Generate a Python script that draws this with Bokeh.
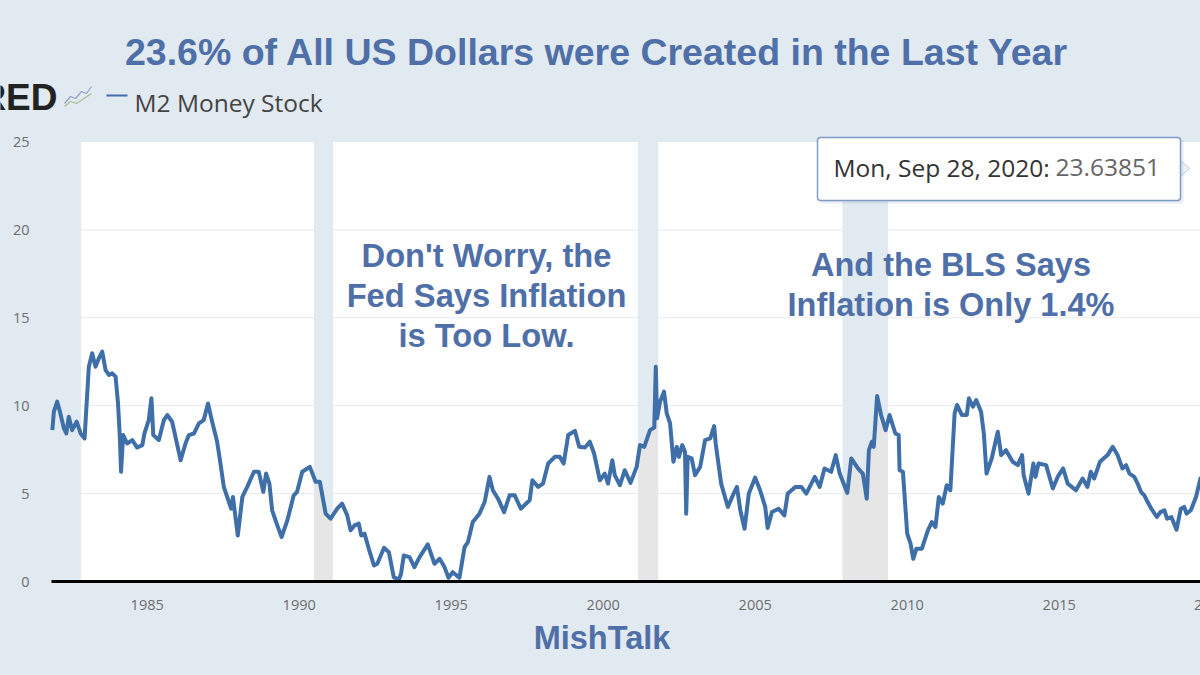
from bokeh.plotting import figure
from bokeh.models import Label, Range1d, FixedTicker, BoxAnnotation
from bokeh.embed import file_html
from bokeh.resources import INLINE
import numpy as np

# ---- data ----
years = [1981.88,1981.93,1982.04,1982.13,1982.26,1982.34,1982.42,1982.53,1982.68,1982.81,1982.94,1983.08,1983.19,1983.30,1983.41,1983.52,1983.63,1983.74,1983.85,1983.96,
1984.04,1984.10,1984.14,1984.21,1984.34,1984.51,1984.67,1984.84,1984.91,1985.05,1985.14,1985.20,1985.38,1985.55,1985.66,1985.82,1985.93,1986.10,1986.26,1986.37,1986.54,1986.70,1986.86,1987.00,1987.11,1987.30,1987.41,1987.52,1987.76,1987.82,1987.98,
1988.13,1988.29,1988.51,1988.67,1988.82,1988.91,1989.02,1989.11,1989.28,1989.42,1989.61,1989.82,1989.93,1990.10,1990.35,1990.54,1990.68,1990.87,1991.03,1991.25,1991.41,1991.58,1991.69,1991.82,1991.96,1992.04,1992.15,1992.29,1992.46,1992.57,1992.79,1992.95,1993.11,1993.28,
1993.35,1993.44,1993.63,1993.79,1993.96,1994.23,1994.45,1994.62,1994.78,1994.91,1995.05,1995.27,1995.44,1995.55,1995.71,1995.93,1996.10,1996.26,1996.37,1996.54,1996.74,1996.92,1997.09,1997.29,1997.58,1997.67,1997.86,1998.02,1998.19,1998.41,1998.57,1998.70,1998.85,1999.07,1999.21,1999.40,1999.56,1999.70,1999.89,
2000.05,2000.16,2000.30,2000.38,2000.55,2000.71,2000.90,2001.10,2001.21,2001.35,2001.54,2001.68,2001.73,2001.77,2001.87,2002.00,2002.09,2002.20,2002.31,2002.42,2002.49,2002.60,2002.69,2002.73,2002.78,2002.91,2003.02,2003.19,2003.35,2003.52,2003.65,2003.70,2003.88,2004.10,2004.29,2004.40,2004.51,2004.65,2004.79,2005.00,2005.16,2005.33,2005.41,2005.55,2005.77,2005.96,2006.07,2006.32,2006.52,
2006.68,2006.96,2007.12,2007.28,2007.50,2007.65,2007.78,2008.03,2008.16,2008.38,2008.54,2008.67,2008.74,2008.84,2008.90,2009.01,2009.14,2009.29,2009.42,2009.61,2009.72,2009.75,2009.86,2010.00,2010.11,2010.20,2010.30,2010.48,2010.68,2010.81,2010.93,2011.04,2011.17,2011.30,2011.42,2011.56,2011.64,2011.80,2011.96,2012.03,2012.16,2012.27,2012.43,2012.52,2012.61,2012.78,2012.98,2013.09,2013.25,2013.47,2013.64,2013.78,2013.83,2013.99,
2014.15,2014.22,2014.32,2014.57,2014.79,2014.95,2015.13,2015.28,2015.55,2015.77,2015.93,2016.04,2016.15,2016.34,2016.59,2016.76,2016.92,2017.08,2017.20,2017.31,2017.47,2017.58,2017.69,2017.80,2017.91,2018.03,2018.21,2018.33,2018.46,2018.55,2018.69,2018.86,2019.00,2019.11,2019.19,2019.33,2019.50,2019.66]
m2_growth = [8.61,9.66,10.23,9.66,8.71,8.42,9.37,8.61,9.09,8.42,8.14,12.22,12.98,12.22,12.70,13.08,12.03,11.75,11.84,11.65,
10.13,8.23,6.24,8.33,7.85,8.04,7.62,7.76,8.42,9.18,10.42,8.33,8.04,9.18,9.47,9.09,8.23,6.90,7.85,8.33,8.42,8.99,9.18,10.13,9.28,7.95,6.71,5.38,4.14,4.81,2.62,
4.81,5.38,6.24,6.24,5.10,6.14,5.57,4.05,3.19,2.53,3.48,4.90,5.10,6.24,6.52,5.67,5.67,3.86,3.57,4.14,4.43,3.76,2.91,3.19,3.29,2.62,2.72,1.86,0.91,1.01,1.92,1.67,0.25,0.10,
0.44,1.48,1.39,0.82,1.39,2.11,1.01,1.29,0.82,0.21,0.53,0.21,1.96,2.24,3.38,3.86,4.52,5.95,5.19,4.71,3.95,4.90,4.90,4.14,4.62,5.76,5.38,5.57,6.71,7.09,7.09,6.71,8.33,8.57,7.66,7.62,7.95,7.28,5.76,
6.14,5.57,6.90,6.05,5.48,6.33,5.61,6.52,7.76,7.66,8.61,8.76,12.22,9.28,10.23,10.80,9.56,8.99,6.81,7.66,7.09,7.76,7.38,3.86,7.09,7.00,6.05,6.52,8.04,8.14,8.84,7.85,5.57,4.24,5.00,5.38,4.05,3.00,5.00,5.91,5.19,4.24,3.04,3.95,4.14,3.76,5.00,5.38,5.38,
5.00,5.95,5.38,6.43,6.24,7.19,6.14,5.04,7.00,6.43,6.14,4.71,7.47,7.95,7.66,10.55,9.47,8.61,9.47,8.42,8.33,6.33,6.24,2.72,2.15,1.29,1.86,1.86,2.91,3.38,3.10,4.81,4.43,5.48,5.19,9.56,10.04,9.47,9.47,10.42,9.94,10.32,9.66,8.42,6.14,7.00,8.52,7.19,7.47,6.81,6.62,7.19,6.05,5.00,
6.71,5.95,6.71,6.62,5.29,5.95,6.43,5.57,5.19,5.86,5.38,6.24,5.86,6.81,7.19,7.66,7.19,6.43,6.62,6.14,5.95,5.57,5.10,4.90,4.52,4.14,3.67,3.95,4.05,3.57,3.67,2.95,4.14,4.24,3.86,4.05,4.81,5.95]
recession_start = [1982.00, 1990.48, 2001.14, 2007.87]
recession_end = [1982.83, 1991.11, 2001.81, 2009.37]
x_ticks = [1985, 1990, 1995, 2000, 2005, 2010, 2015]
y_ticks = [0, 5, 10, 15, 20, 25]
title = "23.6% of All US Dollars were Created in the Last Year"
series_name = "M2 Money Stock"
tip_date = "Mon, Sep 28, 2020:"
tip_value = "23.63851"
note_left = ["Don't Worry, the", "Fed Says Inflation", "is Too Low."]
note_right = ["And the BLS Says", "Inflation is Only 1.4%"]
credit = "MishTalk"

# ---- styles ----
BG = "#e1e9f1"
BLUE = "#3f6fa8"
INK = "#4f6fa8"
GRAY = "#e6e6e6"
TICK = "#6e6e6e"

# pixel helpers for annotation placement only (page pixels to data units)
PXY = 30.4
PXV = 17.58
def xd(px): return 1985 + (px - 146.7) / PXY
def yd(py): return (581 - py) / PXV
X0, X1 = xd(51), xd(1200)

p = figure(width=1200, height=675, output_backend="svg", toolbar_location=None,
           x_range=Range1d(xd(0), X1), y_range=Range1d(yd(675), yd(0)),
           min_border_left=0, min_border_right=0, min_border_top=0, min_border_bottom=0)
p.outline_line_color = None
p.background_fill_color = BG
p.border_fill_color = BG

# white chart panel
p.quad(left=[recession_end[0]], right=[X1], bottom=[0], top=[25], fill_color="white", line_color=None, level="image")

p.xaxis[0].fixed_location = 0
p.yaxis[0].fixed_location = X0
for ax, tk in ((p.xaxis[0], x_ticks), (p.yaxis[0], y_ticks)):
    ax.ticker = FixedTicker(ticks=tk)
    ax.axis_line_color = None
    ax.major_tick_line_color = None
    ax.minor_tick_line_color = None
    ax.major_label_text_font = "Open Sans"
    ax.major_label_text_font_size = "14.5px"
    ax.major_label_text_color = TICK
p.xaxis[0].major_label_standoff = 12
p.yaxis[0].major_label_standoff = 16
p.xgrid.visible = False
p.ygrid.visible = False

# grid lines, between the white panel and the recession bands
p.segment(x0=[recession_end[0]] * 4, x1=[X1] * 4, y0=y_ticks[1:-1], y1=y_ticks[1:-1],
          line_color="#e6e9ee", line_width=1, level="underlay")

# recession bands, blue-grey above the series and grey beneath it
p.quad(left=recession_start[1:], right=recession_end[1:], bottom=[0]*3, top=[25]*3, fill_color=BG, line_color=None)
ya = np.array(years); va = np.array(m2_growth)
for s, e in zip(recession_start[1:], recession_end[1:]):
    inner = ya[(ya > s) & (ya < e)]
    xs = np.concatenate(([s + 0.02], inner, [e - 0.02]))
    p.varea(x=xs, y1=np.zeros(len(xs)), y2=np.interp(xs, ya, va), fill_color=GRAY)

p.line(years, m2_growth, line_color=BLUE, line_width=4, line_join="round")
p.line([X0, X1], [0, 0], line_color="#000000", line_width=3)

def label(px, py, text, size, color, font="Liberation Sans", style="normal", align="center"):
    p.add_layout(Label(x=xd(px), y=yd(py), text=text, text_font=font, text_font_size=f"{size}px",
                       text_font_style=style, text_color=color, text_align=align, text_baseline="middle"))

label(596.5, 51, title, 37.5, INK, style="bold")
label(1210, 604, "2020", 14.5, TICK, font="Open Sans")
label(601.5, 637, credit, 32.5, INK, style="bold")
for i, t in enumerate(note_left):
    label(486, 254.5 + 40 * i, t, 32.7, INK, style="bold")
for i, t in enumerate(note_right):
    label(950.5, 264.5 + 40 * i, t, 32.5, INK, style="bold")

# FRED logo, cut by the page edge, with its little chart icon
label(57, 97, "FRED", 37, "#222222", style="bold", align="right")
p.line([xd(64), xd(70), xd(75), xd(81), xd(86), xd(91)], [yd(103), yd(96), yd(98), yd(91), yd(93), yd(86)],
       line_color="#8ea3c4", line_width=1.2)
p.line([xd(64), xd(70), xd(76), xd(82), xd(91)], [yd(106), yd(101), yd(103), yd(99), yd(93)],
       line_color="#a9bd93", line_width=1.2)
p.line([xd(106), xd(127)], [yd(95), yd(95)], line_color=BLUE, line_width=2)
label(134, 101.5, series_name, 24.5, "#444444", font="Open Sans", align="left")

# tooltip
p.patch([xd(1178), xd(1189), xd(1178)], [yd(158), yd(168), yd(178)], fill_color="#eef2f8", line_color="#b9c8dd")
p.add_layout(BoxAnnotation(left=xd(819), right=xd(1183), top=yd(139), bottom=yd(203), fill_color="#8a9bb5",
                           fill_alpha=0.18, line_color=None, border_radius=3))
p.add_layout(BoxAnnotation(left=xd(817), right=xd(1180), top=yd(137), bottom=yd(200), fill_color="white",
                           fill_alpha=1, line_color="#7f9cc6", line_width=1.5, line_alpha=1, border_radius=3))
label(833, 167, tip_date, 24.5, "#333333", font="Open Sans", align="left")
label(1055, 167, tip_value, 24.5, "#666666", font="Open Sans", align="left")

html = file_html(p, INLINE)
html = html.replace("</head>", f"<style>html,body{{background:{BG}}}</style></head>")
open("out.html", "w").write(html)
